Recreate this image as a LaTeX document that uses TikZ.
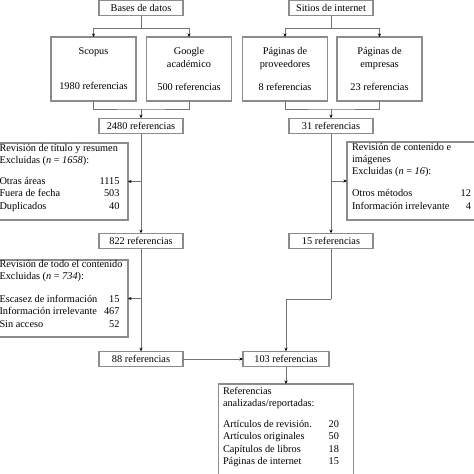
\documentclass[tikz,border=0pt]{standalone}
\usepackage{fontspec}
\setmainfont{Liberation Serif}
\usetikzlibrary{arrows.meta}

\newcommand{\headrow}[1]{\multicolumn{2}{@{}l}{\rlap{#1}}}

\begin{document}
\begin{tikzpicture}[x=1pt,y=-1pt]
\tikzset{ >={Stealth[length=3.5pt,width=3pt,color=black]}, inner sep=0pt, outer sep=0pt,
  box/.style={draw=black!45, line width=1.1pt, align=center, font=\fontsize{10.3}{12.4}\selectfont},
  small/.style={box, minimum width=84pt, minimum height=15.5pt},
  big/.style={box, minimum width=85pt, minimum height=64pt},
  line/.style={draw=black!55, line width=0.8pt},
  arr/.style={line, ->},
  txt/.style={anchor=base west, font=\fontsize{10.3}{12.4}\selectfont},
}
\useasboundingbox (0,0) rectangle (474,474);

%\draw [lightgray, dashed](0,0) grid[step=20] (474,474);

% sources
\node [small] (bases)  at (141,8) {Bases de datos};
\node [small] (sitios) at (331,8) {Sitios de internet};

\node [big] (scopus) at ( 93.5,69) {Scopus\\[22.6pt]1980 referencias};
\node [big] (google) at (189.0,69) {Google\\académico\\[10.4pt]500 referencias};
\node [big] (prov)   at (285.0,69) {Páginas de\\proveedores\\[10.4pt]8 referencias};
\node [big] (empr)   at (379.5,69) {Páginas de\\empresas\\[10.4pt]23 referencias};

% counts
\node [small] (r2480) at (141,126) {2480 referencias};
\node [small] (r31)   at (331,126) {31 referencias};
\node [small] (r822)  at (141,241) {822 referencias};
\node [small] (r15)   at (331,241) {15 referencias};
\node [small] (r88)   at (141,359) {88 referencias};
\node [small, minimum width=86pt] (r103) at (286,359) {103 referencias};

% exclusion boxes
\node [box, minimum width=138pt, minimum height=77pt] (rev1) at (59,181.5) {};
\node [txt] (rev1txt) at (-0.5,151) {\begin{tabular*}{120pt}[t]{@{}l@{\extracolsep{\fill}}r@{}}
\headrow{Revisión de título y resumen}\\
\headrow{Excluidas (\textit{n} = \textit{1658}):}\\[8.5pt]
Otras áreas & 1115\\
Fuera de fecha & 503\\
Duplicados & 40
\end{tabular*}};

\node [box, minimum width=138pt, minimum height=77pt] (rev2) at (59,298.5) {};
\node [txt] (rev2txt) at (-0.5,267) {\begin{tabular*}{120pt}[t]{@{}l@{\extracolsep{\fill}}r@{}}
\headrow{Revisión de todo el contenido}\\
\headrow{Excluidas (\textit{n} = \textit{734}):}\\[10.5pt]
Escasez de información & 15\\
Información irrelevante & 467\\
Sin acceso & 52
\end{tabular*}};

\node [box, minimum width=133pt, minimum height=78pt] (rev3) at (413.5,181) {};
\node [txt] (rev3txt) at (352,150) {\begin{tabular*}{119pt}[t]{@{}l@{\extracolsep{\fill}}r@{}}
\headrow{Revisión de contenido e}\\
\headrow{imágenes}\\
\headrow{Excluidas (\textit{n} = \textit{16}):}\\[9.5pt]
Otros métodos & 12\\
Información irrelevante & 4
\end{tabular*}};

% result
\node [box, minimum width=135pt, minimum height=96pt] (final) at (286,432) {};
\node [txt] (finaltxt) at (223,394) {\begin{tabular*}{116pt}[t]{@{}l@{\extracolsep{\fill}}r@{}}
\headrow{Referencias}\\
\headrow{analizadas/reportadas:}\\[8.6pt]
Artículos de revisión. & 20\\
Artículos originales & 50\\
Capítulos de libros & 18\\
Páginas de internet & 15
\end{tabular*}};

% split and merge points
\coordinate (bsplit) at (141,28);
\coordinate (bmerge) at (141,109);
\coordinate (ssplit) at (331,28);
\coordinate (smerge) at (331,109);
\coordinate (b1) at (rev1.east -| r2480.south);
\coordinate (b2) at (rev2.east -| r822.south);
\coordinate (b3) at (rev3.west -| r31.south);
\coordinate (b4) at (331,299);

\draw [line] (bases) -- (bsplit);
\draw [arr] (bsplit) -| (scopus.north);
\draw [arr] (bsplit) -| (google.north);
\draw [line] (scopus.south) |- (bmerge) -| (google.south);
\draw [arr] (bmerge) -- (r2480);

\draw [line] (sitios) -- (ssplit);
\draw [arr] (ssplit) -| (prov.north);
\draw [arr] (ssplit) -| (empr.north);
\draw [line] (prov.south) |- (smerge) -| (empr.south);
\draw [arr] (smerge) -- (r31);

\draw [arr] (r2480) -- (r822);
\draw [arr] (b1) -- (rev1.east);
\draw [arr] (r822) -- (r88);
\draw [arr] (b2) -- (rev2.east);

\draw [arr] (r31) -- (r15);
\draw [arr] (b3) -- (rev3.west);
\draw [line] (r15) -- (b4);
\draw [arr] (b4) -| (r103.north);

\draw [arr] (r88) -- (r103);
\draw [arr] (r103) -- (final);

\end{tikzpicture}
\end{document}
